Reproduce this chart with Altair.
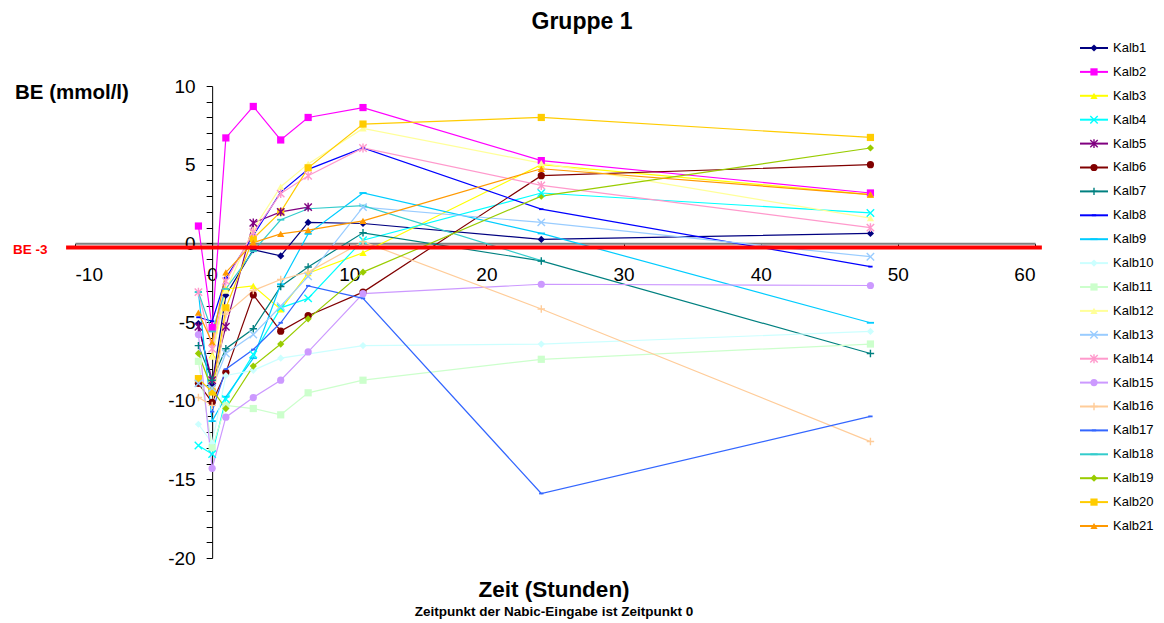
import altair as alt
import pandas as pd

TIMES = [-1, 0, 1, 3, 5, 7, 11, 24, 48]

NAMES = [f"Kalb{i}" for i in range(1, 22)]

KALB1 = [-5.1, -9.0, -3.3, -0.4, -0.8, 1.33, 1.26, 0.25, 0.63]
KALB2 = [1.1, -5.35, 6.7, 8.7, 6.57, 8.0, 8.63, 5.26, 3.2]
KALB3 = [None, -7.1, -2.9, -2.7, -4.2, -1.9, -0.6, 5.0, 3.1]
KALB4 = [-12.85, -13.4, -9.9, -7.06, -4.1, -3.5, 0.2, 3.2, 1.93]
KALB5 = [-5.3, -8.7, -5.3, 1.3, 2.0, 2.3, None, None, None]
KALB6 = [-8.9, -10.1, -8.2, -3.27, -5.58, -4.6, -3.1, 4.3, 5.0]
KALB7 = [-6.5, -8.7, -6.7, -5.43, -2.74, -1.5, 0.67, -1.12, -7.0]
KALB8 = [-4.7, -4.95, -2.2, 0.5, 3.26, 4.7, 6.06, 2.17, -1.48]
KALB9 = [-3.1, -11.3, -9.75, -7.3, -2.6, 0.6, 3.2, 0.63, -5.05]
KALB10 = [-11.5, -12.7, -8.4, -8.07, -7.3, None, -6.5, -6.4, -5.6]
KALB11 = [-7.5, -13.0, -10.3, -10.5, -10.9, -9.5, -8.7, -7.37, -6.4]
KALB12 = [None, -7.2, -3.0, 0.9, 3.6, 5.05, 7.3, 5.1, 1.6]
KALB13 = [-8.9, -9.2, -7.0, -5.8, -4.0, -2.1, 2.3, 1.33, -0.85]
KALB14 = [-3.1, -6.7, -2.4, 0.7, 3.16, 4.3, 6.06, 3.68, 1.0]
KALB15 = [-5.8, -14.3, -11.05, -9.8, -8.7, -6.9, -3.2, -2.6, -2.68]
KALB16 = [-9.8, -10.3, -4.5, -3.0, -2.3, -1.83, 0.1, -4.17, -12.6]
KALB17 = [None, -10.7, -8.0, -6.75, -5.05, -2.7, -3.5, -15.9, -11.0]
KALB18 = [-3.1, -5.6, -2.9, -0.5, 1.5, 2.2, 2.4, -1.1, None]
KALB19 = [-7.0, -9.3, -10.5, -7.8, -6.4, -4.8, -1.83, 3.0, 6.06]
KALB20 = [-8.6, -9.45, -4.1, 0.3, 2.0, 4.8, 7.58, 8.0, 6.73]
KALB21 = [-4.4, -6.3, -1.85, 0.04, 0.6, 0.84, 1.43, 4.74, 3.1]

SERIES = [KALB1, KALB2, KALB3, KALB4, KALB5, KALB6, KALB7, KALB8, KALB9, KALB10,
          KALB11, KALB12, KALB13, KALB14, KALB15, KALB16, KALB17, KALB18, KALB19,
          KALB20, KALB21]

COLORS = ["#000080", "#FF00FF", "#FFFF00", "#00FFFF", "#800080", "#800000", "#008080",
          "#0000FF", "#00CCFF", "#CCFFFF", "#CCFFCC", "#FFFF99", "#99CCFF", "#FF99CC",
          "#CC99FF", "#FFCC99", "#3366FF", "#33CCCC", "#99CC00", "#FFCC00", "#FF9900"]

X_SHAPE = "M-1,-1L1,1M-1,1L1,-1"
STAR_SHAPE = "M-1,-1L1,1M-1,1L1,-1M0,-1.2L0,1.2"
PLUS_SHAPE = "M-1,0L1,0M0,-1L0,1"
SHORT_DASH = "M-0.6,-0.25L0.6,-0.25L0.6,0.25L-0.6,0.25Z"
LONG_DASH = "M-1,-0.25L1,-0.25L1,0.25L-1,0.25Z"

SHAPES = ["diamond", "square", "triangle-up", X_SHAPE, STAR_SHAPE, "circle", PLUS_SHAPE,
          SHORT_DASH, LONG_DASH, "diamond", "square", "triangle-up", X_SHAPE, STAR_SHAPE,
          "circle", PLUS_SHAPE, SHORT_DASH, LONG_DASH, "diamond", "square", "triangle-up"]
STROKED = {X_SHAPE, STAR_SHAPE, PLUS_SHAPE}

TITLE = "Gruppe 1"
Y_TITLE = "BE (mmol/l)"
X_TITLE = "Zeit (Stunden)"
X_SUBTITLE = "Zeitpunkt der Nabic-Eingabe ist Zeitpunkt 0"
REF_LABEL = "BE -3"
REF_X = [-10.65]
REF_X2 = [60.5]
REF_Y = [-0.27]

FONT = "Liberation Sans"
W, H = 960, 472

rows = []
for name, vals, shp in zip(NAMES, SERIES, SHAPES):
    for t, v in zip(TIMES, vals):
        if v is not None:
            rows.append({"Kalb": name, "Zeit": t, "BE": v,
                         "kind": "stroke" if shp in STROKED else "fill"})
df = pd.DataFrame(rows)

leg = pd.DataFrame({"Kalb": NAMES, "idx": list(range(len(NAMES))),
                    "kind": ["stroke" if s in STROKED else "fill" for s in SHAPES]})

color = alt.Color("Kalb:N", scale=alt.Scale(domain=NAMES, range=COLORS), legend=None)
shape = alt.Shape("Kalb:N", scale=alt.Scale(domain=NAMES, range=SHAPES), legend=None)

x_axis = alt.Axis(values=list(range(-10, 61, 10)), title=None, grid=False,
                  labelExpr="replace(datum.label, '\u2212', '-')",
                  domainColor="#808080", domainWidth=2, tickColor="black", tickSize=5,
                  labelFont=FONT, labelFontSize=19, labelColor="black", labelPadding=17,
                  offset=-(H - H * 10 / 30))
y_axis = alt.Axis(values=list(range(-20, 11)), title=None, grid=False,
                  labelExpr="datum.value % 5 == 0 ? replace(datum.label, '\u2212', '-') : ''",
                  domainColor="black", tickColor="black", tickSize=6,
                  labelFont=FONT, labelFontSize=19, labelColor="black", labelPadding=11,
                  offset=-(W * 10 / 70))

X = alt.X("Zeit:Q", scale=alt.Scale(domain=[-10, 60], nice=False, zero=False), axis=x_axis)
Y = alt.Y("BE:Q", scale=alt.Scale(domain=[-20, 10], nice=False, zero=False), axis=y_axis)

base = alt.Chart(df)
lines = base.mark_line(strokeWidth=1.2).encode(x=X, y=Y, color=color, detail="Kalb:N")
pts_fill = base.transform_filter(alt.datum.kind == "fill").mark_point(
    filled=True, size=52, opacity=1).encode(x=X, y=Y, color=color, shape=shape)
pts_stroke = base.transform_filter(alt.datum.kind == "stroke").mark_point(
    filled=False, size=55, strokeWidth=1.4, opacity=1).encode(x=X, y=Y, color=color, shape=shape)

ref_df = pd.DataFrame({"Zeit": REF_X, "Zeit2": REF_X2, "BE": REF_Y})
ref = alt.Chart(ref_df).mark_rule(color="#FF0000", strokeWidth=4).encode(
    x=X, x2="Zeit2:Q", y=Y)

def label(txt, x, y, size, col="black", align="left"):
    return alt.Chart(pd.DataFrame({"t": [txt]})).mark_text(
        font=FONT, fontSize=size, fontWeight="bold", color=col, align=align,
        baseline="middle").encode(text="t:N", x=alt.value(x), y=alt.value(y))

ref_lab = label(REF_LABEL, -62, 164, 13.5, "#FF0000")
ytitle = label(Y_TITLE, -60, 7, 20.5)
xtitle = label(X_TITLE, 479, 504, 22.5, align="center")
xsub = label(X_SUBTITLE, 479, 526, 13.5, align="center")

main = alt.layer(lines, pts_fill, pts_stroke, ref, ref_lab, ytitle, xtitle, xsub)

LY = alt.Y("idx:Q", scale=alt.Scale(domain=[1.590, 21.339], reverse=True, nice=False, zero=False),
           axis=None)
lbase = alt.Chart(leg)
leg_line = lbase.mark_rule(strokeWidth=2).encode(
    x=alt.value(1005), x2=alt.value(1033), y=LY, color=color)
leg_fill = lbase.transform_filter(alt.datum.kind == "fill").mark_point(
    filled=True, size=52, opacity=1).encode(x=alt.value(1019), y=LY, color=color, shape=shape)
leg_stroke = lbase.transform_filter(alt.datum.kind == "stroke").mark_point(
    filled=False, size=55, strokeWidth=1.4, opacity=1).encode(x=alt.value(1019), y=LY, color=color, shape=shape)
leg_text = lbase.mark_text(font=FONT, fontSize=13, align="left", baseline="middle",
                           color="black").encode(x=alt.value(1038), y=LY, text="Kalb:N")
legend = alt.layer(leg_line, leg_fill, leg_stroke, leg_text)

chart = alt.layer(main, legend).resolve_scale(y="independent").properties(
    width=W, height=H,
    title=alt.TitleParams(TITLE, font=FONT, fontSize=23, fontWeight="bold", anchor="middle",
                          color="black", offset=8, dx=27),
    padding={"left": 5, "top": 2, "right": 0, "bottom": 0},
).configure_view(stroke="transparent")

chart.save("out.html", embed_options={"renderer": "svg", "actions": False})
